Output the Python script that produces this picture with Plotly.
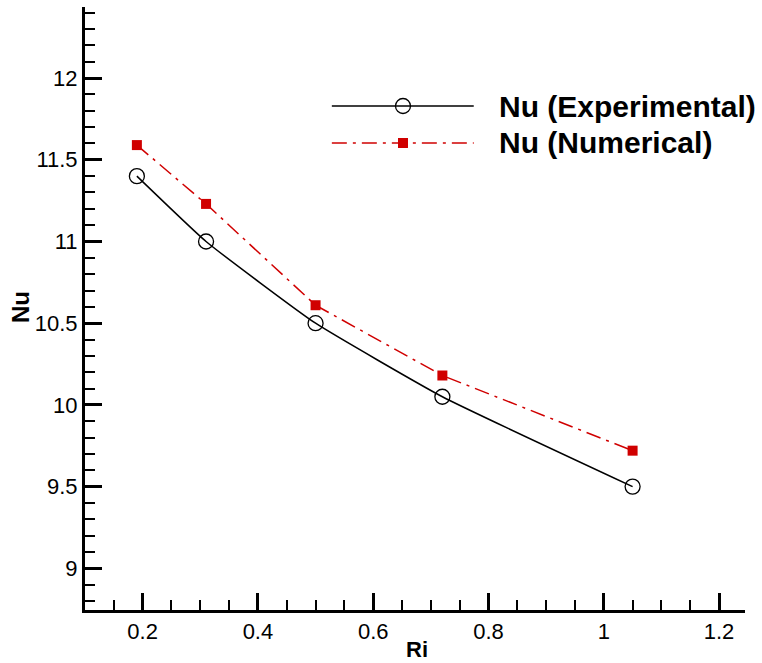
import plotly.graph_objects as go

ri = [0.19, 0.31, 0.5, 0.72, 1.05]
nu_exp = [11.40, 11.00, 10.50, 10.05, 9.50]
nu_num = [11.59, 11.23, 10.61, 10.18, 9.72]
names = ["Nu (Experimental)", "Nu (Numerical)"]
red = "#d00000"

fig = go.Figure()
fig.add_trace(go.Scatter(x=ri, y=nu_exp, mode="lines+markers", name=names[0],
                         line=dict(color="black", width=1.5, shape="spline", smoothing=0.4),
                         marker=dict(symbol="circle-open", size=15, color="black", line=dict(width=1.3)),
                         showlegend=False))
fig.add_trace(go.Scatter(x=ri, y=nu_num, mode="lines+markers", name=names[1],
                         line=dict(color=red, width=1.5, dash="15px,6px,3px,6px"),
                         marker=dict(symbol="square", size=10, color=red),
                         showlegend=False))

# custom legend (decoration) on an overlay axis in [0,1]
leg_y = [0.8358, 0.7745]
fig.add_trace(go.Scatter(x=[0.4818], y=[leg_y[0]], xaxis="x2", yaxis="y2", mode="markers",
                         marker=dict(symbol="circle-open", size=15, color="black", line=dict(width=1.3)),
                         showlegend=False, hoverinfo="skip"))
fig.add_trace(go.Scatter(x=[0.4818], y=[leg_y[1]], xaxis="x2", yaxis="y2", mode="markers",
                         marker=dict(symbol="square", size=10, color=red),
                         showlegend=False, hoverinfo="skip"))
fig.add_shape(type="line", xref="x2", yref="y2", x0=0.374, x1=0.589, y0=leg_y[0], y1=leg_y[0],
              line=dict(color="black", width=1.5), layer="below")
fig.add_shape(type="line", xref="x2", yref="y2", x0=0.374, x1=0.589, y0=leg_y[1], y1=leg_y[1],
              line=dict(color=red, width=1.5, dash="15px,6px,3px,6px"), layer="below")
for i, nm in enumerate(names):
    fig.add_annotation(xref="x2", yref="y2", x=0.624, y=leg_y[i], text="<b>%s</b>" % nm,
                       showarrow=False, xanchor="left", yanchor="middle",
                       font=dict(family="Liberation Sans, Arial", size=30, color="black"))

# axis titles
fig.add_annotation(xref="paper", yref="paper", x=0.503, y=0, yshift=-39, text="<b>Ri</b>",
                   showarrow=False, xanchor="center", yanchor="middle",
                   font=dict(family="Liberation Sans, Arial", size=22, color="black"))
fig.add_annotation(xref="paper", yref="paper", x=0, xshift=-64, y=0.5025, text="<b>Nu</b>",
                   showarrow=False, xanchor="center", yanchor="middle", textangle=-90,
                   font=dict(family="Liberation Sans, Arial", size=24, color="black"))

fig.update_layout(
    width=762, height=663,
    margin=dict(l=85, r=17, t=7, b=53),
    paper_bgcolor="white", plot_bgcolor="white",
    font=dict(family="Liberation Sans, Arial", size=22, color="black"),
    xaxis=dict(range=[0.1, 1.245], tickvals=[0.2, 0.4, 0.6, 0.8, 1.0, 1.2],
               ticktext=["0.2", "0.4", "0.6", "0.8", "1", "1.2"], automargin=False,
               ticks="inside", ticklen=17, tickwidth=3, tickcolor="black",
               minor=dict(dtick=0.05, tick0=0, ticks="inside", ticklen=10, tickwidth=1.5, tickcolor="black"),
               showline=True, linecolor="black", linewidth=3, showgrid=False, zeroline=False),
    yaxis=dict(range=[8.745, 12.435], tickvals=[9, 9.5, 10, 10.5, 11, 11.5, 12],
               ticktext=["9", "9.5", "10", "10.5", "11", "11.5", "12"], automargin=False,
               ticks="inside", ticklen=17, tickwidth=3, tickcolor="black",
               minor=dict(dtick=0.1, tick0=0, ticks="inside", ticklen=10, tickwidth=1.5, tickcolor="black"),
               showline=True, linecolor="black", linewidth=3, showgrid=False, zeroline=False),
    xaxis2=dict(overlaying="x", range=[0, 1], visible=False, domain=[0, 1]),
    yaxis2=dict(overlaying="y", range=[0, 1], visible=False),
)
fig.write_html("out.html", config={"displayModeBar": False},
               post_script="document.body.style.margin='0';document.body.style.overflow='hidden';")
